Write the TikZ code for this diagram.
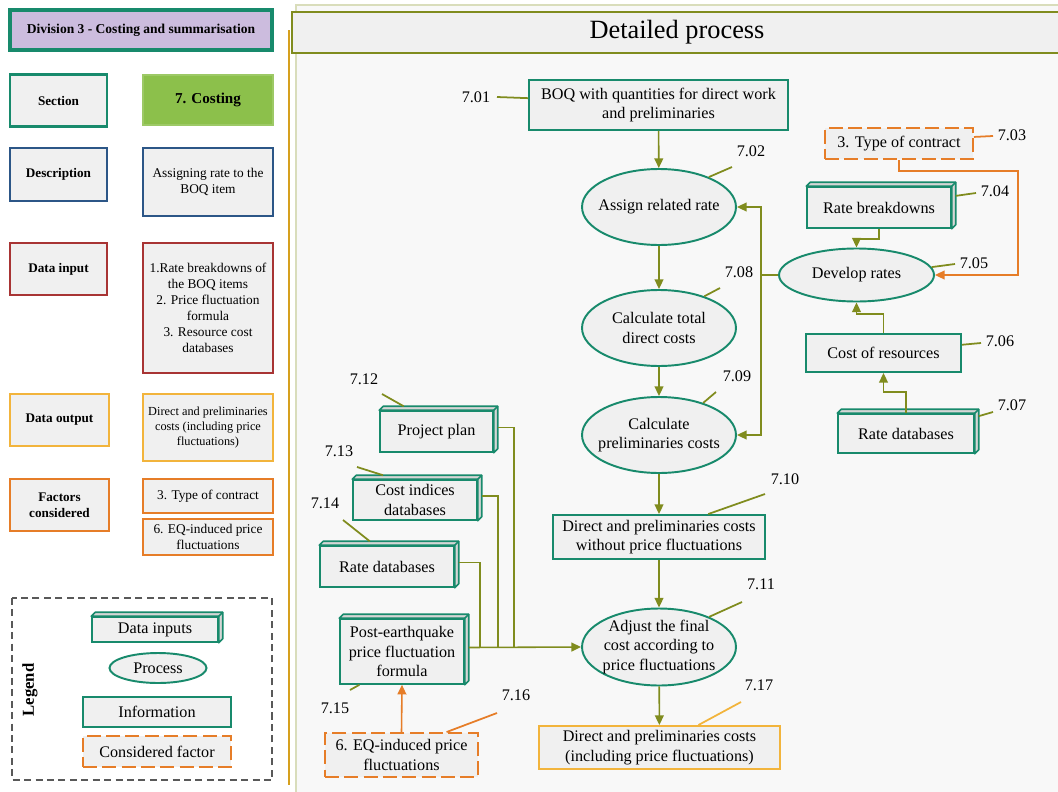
\documentclass[tikz,border=0pt]{standalone}
\usepackage{fontspec}
\setmainfont{Liberation Serif}
\usetikzlibrary{shapes.geometric,arrows.meta}
\definecolor{tealline}{RGB}{24,138,108}
\definecolor{arrowolive}{RGB}{128,140,30}
\definecolor{factororange}{RGB}{230,125,40}
\definecolor{outgold}{RGB}{242,180,60}
\definecolor{inred}{RGB}{168,52,52}
\definecolor{descblue}{RGB}{44,86,135}
\definecolor{divlav}{RGB}{204,188,222}
\definecolor{costgreen}{RGB}{140,192,75}
\definecolor{boxgray}{RGB}{240,240,240}
\definecolor{facegray}{RGB}{214,214,214}
\definecolor{panelgray}{RGB}{248,248,248}
\definecolor{sepgold}{RGB}{214,160,30}
\newcommand{\cubefaces}[1]{%
  \filldraw[draw=tealline,fill=facegray,line width=0.9pt,line join=round]
    (#1.north west) -- ++(4,-4) -- ([shift={(4,-4)}]#1.north east)
    -- ([shift={(4,-4)}]#1.south east) -- (#1.south east) -- (#1.north east) -- cycle;
  \draw[tealline,line width=0.9pt] (#1.north east) -- ++(4,-4);}

\begin{document}
\begin{tikzpicture}[x=0.02cm,y=-0.02cm,
  main font/.style={font=\fontsize{9.2}{11}\selectfont},
  info node/.style={rectangle,draw=tealline,fill=boxgray,line width=1.1pt,align=center,inner sep=1pt,main font},
  data node/.style={info node,line width=0.9pt},
  process node/.style={ellipse,draw=tealline,fill=boxgray,line width=1.1pt,align=center,inner xsep=-6pt,inner ysep=0pt,main font},
  factor node/.style={rectangle,draw=factororange,dash pattern=on 8pt off 3pt,fill=boxgray,line width=1.1pt,align=center,inner sep=1pt,main font},
  output node/.style={info node,draw=outgold},
  num node/.style={main font,inner sep=0pt},
  head node/.style={rectangle,fill=boxgray,line width=1.2pt,align=center,minimum width=1.94cm,minimum height=1.04cm,font=\fontsize{7.5}{9}\selectfont\bfseries},
  value node/.style={rectangle,fill=boxgray,line width=1.2pt,align=center,minimum width=2.6cm,inner sep=1pt,font=\fontsize{7.6}{9.1}\selectfont},
  flow/.style={-{Triangle[length=5.5pt,width=5pt]},arrowolive,line width=0.9pt},
  factor flow/.style={flow,factororange},
  link/.style={arrowolive,line width=0.9pt},
  leader/.style={arrowolive,line width=1pt}]

  \useasboundingbox (0,0) rectangle (1058,791);
  \fill[white] (0,0) rectangle (1058,791);

  \node[head node,draw=tealline,fill=divlav,minimum width=5.24cm,minimum height=0.8cm,line width=1.8pt,font=\fontsize{7.7}{9}\selectfont\bfseries] (div) at (141,30) {Division 3 - Costing and summarisation};
  \node[head node,draw=tealline] (sec) at (58.5,100.5) {Section};
  \node[head node,fill=costgreen,draw=costgreen!85!white,minimum width=2.6cm,minimum height=1.0cm,font=\fontsize{8.6}{10}\selectfont\bfseries] (cost) at (208,100) {7. Costing};
  \node[head node,draw=descblue,minimum height=1.06cm] (desc) at (58.5,174.5) {Description};
  \node[value node,draw=descblue,minimum height=1.36cm] (descv) at (208,182) {Assigning rate to the\\BOQ item};
  \node[head node,draw=inred] (din) at (58.5,269) {Data input};
  \node[value node,draw=inred,minimum height=2.6cm] (dinv) at (208,308) {1.Rate breakdowns of\\the BOQ items\\2. Price fluctuation\\formula\\3. Resource cost\\databases};
  \node[head node,draw=outgold,minimum width=1.98cm] (dout) at (59.5,420) {Data output};
  \node[value node,draw=outgold,minimum height=1.34cm,font=\fontsize{7}{8.6}\selectfont] (doutv) at (208,427.5) {Direct and preliminaries\\costs (including price\\fluctuations)};
  \node[head node,draw=factororange,minimum width=1.98cm] (fac) at (59.5,505) {Factors\\considered};
  \node[value node,draw=factororange,minimum height=0.68cm] (facv1) at (208,496) {3. Type of contract};
  \node[value node,draw=factororange,minimum height=0.72cm] (facv2) at (208,537) {6. EQ-induced price\\fluctuations};

  \draw[black!65,line width=0.6pt,dash pattern=on 4pt off 2.5pt] (12,598) rectangle (272,780);
  \node[rotate=90,font=\fontsize{9.5}{11}\selectfont\bfseries] (leg) at (30,690) {Legend};
  \node[data node,minimum width=2.52cm,minimum height=0.5cm] (lg1) at (155,629.5) {Data inputs};
  \cubefaces{lg1}
  \node[process node,minimum width=1.94cm,minimum height=0.6cm] (lg2) at (158,668) {Process};
  \node[info node,minimum width=2.96cm,minimum height=0.6cm] (lg3) at (157,712) {Information};
  \node[factor node,minimum width=2.96cm,minimum height=0.62cm] (lg4) at (157,751.5) {Considered factor};

  \filldraw[fill=panelgray,draw=arrowolive!30,line width=0.8pt] (296,5) rectangle (1064,797);
  \draw[sepgold,line width=1.7pt] (289,30) -- (289,785);
  \node[draw=arrowolive,fill=boxgray,line width=1.5pt,minimum width=15.4cm,minimum height=0.82cm,font=\fontsize{15}{17}\selectfont] (title) at (677,32.5) {Detailed process};

  \node[info node,minimum width=5.18cm,minimum height=1.0cm] (n01) at (658.5,105) {BOQ with quantities for direct work\\and preliminaries};
  \node[process node,minimum width=3.08cm,minimum height=1.52cm] (n02) at (659,207) {Assign related rate};
  \node[factor node,minimum width=2.96cm,minimum height=0.62cm] (n03) at (899,143.5) {3. Type of contract};
  \node[data node,minimum width=2.88cm,minimum height=0.82cm] (n04) at (879,207.5) {Rate breakdowns};
  \cubefaces{n04}
  \node[process node,minimum width=3.1cm,minimum height=1.06cm] (n05) at (856.5,275) {Develop rates};
  \node[info node,minimum width=3.1cm,minimum height=0.76cm] (n06) at (883.5,353) {Cost of resources};
  \node[data node,minimum width=2.72cm,minimum height=0.78cm] (n07) at (906,433.5) {Rate databases};
  \cubefaces{n07}
  \node[process node,minimum width=3.08cm,minimum height=1.52cm] (n08) at (659,328) {Calculate total\\direct costs};
  \node[process node,minimum width=3.08cm,minimum height=1.52cm] (n09) at (659,435) {Calculate\\preliminaries costs};
  \node[info node,minimum width=4.24cm,minimum height=0.88cm] (n10) at (659,537) {Direct and preliminaries costs\\without price fluctuations};
  \node[process node,minimum width=3.08cm,minimum height=1.54cm] (n11) at (659,647) {Adjust the final\\cost according to\\price fluctuations};
  \node[data node,minimum width=2.26cm,minimum height=0.82cm] (n12) at (436.5,431.5) {Project plan};
  \cubefaces{n12}
  \node[data node,minimum width=2.48cm,minimum height=0.8cm] (n13) at (415,500) {Cost indices\\databases};
  \cubefaces{n13}
  \node[data node,minimum width=2.68cm,minimum height=0.82cm] (n14) at (387,566.5) {Rate databases};
  \cubefaces{n14}
  \node[data node,minimum width=2.48cm,minimum height=1.3cm] (n15) at (402,651.5) {Post-earthquake\\price fluctuation\\formula};
  \cubefaces{n15}
  \node[factor node,minimum width=3.06cm,minimum height=0.88cm] (n16) at (401.5,755) {6. EQ-induced price\\fluctuations};
  \node[output node,minimum width=4.82cm,minimum height=0.86cm] (n17) at (659.5,747.5) {Direct and preliminaries costs\\(including price fluctuations)};

  \node[num node] (l01) at (476,97) {7.01};
  \node[num node] (l02) at (751,151) {7.02};
  \node[num node] (l03) at (1012,135) {7.03};
  \node[num node] (l04) at (995,191) {7.04};
  \node[num node] (l05) at (974,263) {7.05};
  \node[num node] (l06) at (1000,341) {7.06};
  \node[num node] (l07) at (1012,405) {7.07};
  \node[num node] (l08) at (739,272) {7.08};
  \node[num node] (l09) at (737,376) {7.09};
  \node[num node] (l10) at (785,479) {7.10};
  \node[num node] (l11) at (761,584) {7.11};
  \node[num node] (l12) at (364,379) {7.12};
  \node[num node] (l13) at (339,451) {7.13};
  \node[num node] (l14) at (325,503) {7.14};
  \node[num node] (l15) at (335,708) {7.15};
  \node[num node] (l16) at (516,695) {7.16};
  \node[num node] (l17) at (759,685) {7.17};

  \coordinate (c01) at (497,97);
  \coordinate (c02) at (732,167);
  \coordinate (c03) at (993,136);
  \coordinate (c04) at (976,193);
  \coordinate (c05) at (955,264);
  \coordinate (c06) at (981,343);
  \coordinate (c07) at (993,412);
  \coordinate (c08) at (720,288);
  \coordinate (c09) at (716,392);
  \coordinate (c10) at (765,494);
  \coordinate (c11) at (742,602);
  \coordinate (c12) at (382,394);
  \coordinate (c13) at (357,467);
  \coordinate (c14) at (343,520);
  \coordinate (c15) at (350,690);
  \coordinate (c16) at (497,713);
  \coordinate (c17) at (741,702);

  \draw[leader] (c01) -- (n01.177);
  \draw[leader] (n02.31) -- (c02);
  \draw[leader,factororange] (n03.5) -- (c03);
  \draw[leader] ([shift={(4,-4)}]n04.6) -- (c04);
  \draw[leader] (n05.6) -- (c05);
  \draw[leader] (n06.6) -- (c06);
  \draw[leader] ([shift={(4,-4)}]n07.11) -- (c07);
  \draw[leader] (n08.35) -- (c08);
  \draw[leader] (n09.36) -- (c09);
  \draw[leader] (n10.25) -- (c10);
  \draw[leader] (n11.31) -- (c11);
  \draw[leader] ([shift={(4,-4)}]n12.150) -- (c12);
  \draw[leader] ([shift={(4,-4)}]n13.150) -- (c13);
  \draw[leader] ([shift={(4,-4)}]n14.135) -- (c14);
  \draw[leader] (n15.218) -- (c15);
  \draw[leader,factororange] (n16.27) -- (c16);
  \draw[leader,outgold] (n17.30) -- (c17);

  \path (n01) edge[flow] (n02)
        (n02) edge[flow] (n08)
        (n08) edge[flow] (n09)
        (n09) edge[flow] (n10)
        (n10) edge[flow] (n11)
        (n11) edge[flow] (n17);

  \coordinate (j08) at (761,275);
  \draw[link] (n05.west) -- (j08);
  \draw[flow] (j08) |- (n02.east);
  \draw[flow] (j08) |- (n09.east);
  \draw[flow] (n04.south) -- ++(0,10) -| (n05.north);
  \draw[flow] (n06.north) -- ++(0,-19) -| (n05.south);
  \draw[flow] (n07.north) -- ++(0,-21) -| (n06.south);
  \draw[factor flow] (n03.south) |- ++(119,11) |- (n05.east);

  \coordinate (m12) at (514,647);
  \coordinate (m13) at (498,647);
  \coordinate (m14) at (480,647);
  \draw[link] ([shift={(4,-4)}]n12.east) -| (m12);
  \draw[link] ([shift={(4,-4)}]n13.east) -| (m13);
  \draw[link] ([shift={(4,-4)}]n14.east) -| (m14);
  \draw[flow] ([shift={(4,-4)}]n15.east) -- (n11.west);
  \draw[factor flow] (n16.north) -- (n15.south);
\end{tikzpicture}
\end{document}
